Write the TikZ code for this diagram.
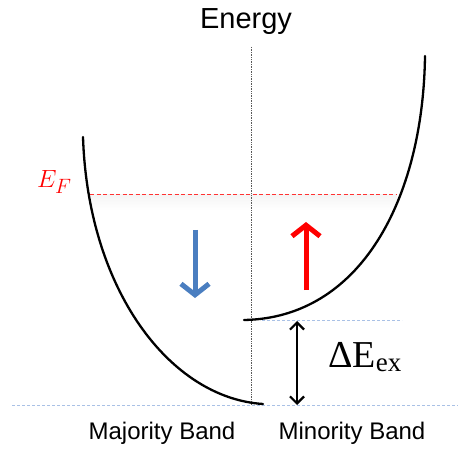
\documentclass[tikz,border=0pt]{standalone}
\usepackage{fontspec}
\setmainfont{Liberation Sans}
\newfontfamily\serifface{Liberation Serif}
\usetikzlibrary{arrows.meta}
\definecolor{spinblue}{HTML}{4A7EC0}
\definecolor{lineblue}{HTML}{A9C1E6}
\tikzset{
  band/.style={line width=2.3pt, line cap=round},
  guide/.style={gray!70!black, line width=0.7pt, densely dotted},
  levelline/.style={lineblue, line width=1pt, densely dashed},
  fermiline/.style={red!80, line width=0.8pt, dash pattern=on 4pt off 2.5pt},
  spinarrow/.style={line width=5pt, -{Straight Barb[length=11pt,width=28pt,line width=5pt]}},
  gaparrow/.style={line width=2.2pt, {Straight Barb[length=7pt,width=14pt]}-{Straight Barb[length=7pt,width=14pt]}},
  lbl/.style={inner sep=0pt, anchor=base}
}
\begin{document}
\begin{tikzpicture}[x=1pt,y=-1pt]
\useasboundingbox (0,0) rectangle (458,449);
% faint shading under Fermi level
\shade[top color=black!4, bottom color=white] (91,195) rectangle (397,210);
% vertical guide
\coordinate (vtop) at (251,47);
\coordinate (vbot) at (251,405);
\draw[guide] (vtop) -- (vbot);
% level lines
\coordinate (minL) at (262,320);
\coordinate (minR) at (402,320);
\draw[levelline] (minL) -- (minR);
\coordinate (baseL) at (12,405);
\coordinate (baseR) at (458,405);
\draw[levelline] (baseL) -- (baseR);
% Fermi level
\coordinate (efL) at (90,194);
\coordinate (efR) at (397,194);
\draw[fermiline] (efL) -- (efR);
% bands
\coordinate (majTop) at (83,137);
\coordinate (majMin) at (263,404);
\draw[band] (majTop) .. controls (88,290) and (170,398) .. (majMin);
\coordinate (minMin) at (244,320);
\coordinate (minTop) at (425,56);
\draw[band] (minMin) .. controls (360,318) and (423,200) .. (minTop);
% spin arrows
\coordinate (bdTop) at (195,230);
\coordinate (bdTip) at (195,298);
\draw[spinarrow, spinblue] (bdTop) -- (bdTip);
\coordinate (ruBot) at (306,290);
\coordinate (ruTip) at (306,222);
\draw[spinarrow, red] (ruBot) -- (ruTip);
% exchange splitting arrow
\coordinate (gTop) at (297,321);
\coordinate (gBot) at (297,405);
\draw[gaparrow] (gTop) -- (gBot);
% labels
\node[lbl] (energy) at (246,29) {\fontsize{29}{30}\selectfont Energy};
\node[lbl] (maj) at (162,439) {\fontsize{24}{26}\selectfont Majority Band};
\node[lbl] (mino) at (352,439) {\fontsize{24}{26}\selectfont Minority Band};
\node[lbl, anchor=base west, red] (ef) at (37,188) {\fontsize{32}{34}\selectfont $E_F$};
\node[lbl, anchor=base west] (dex) at (328,367) {\serifface\fontsize{38}{40}\selectfont ΔE\raisebox{-0.12em}{\fontsize{27}{28}\selectfont ex}};
\end{tikzpicture}
\end{document}
